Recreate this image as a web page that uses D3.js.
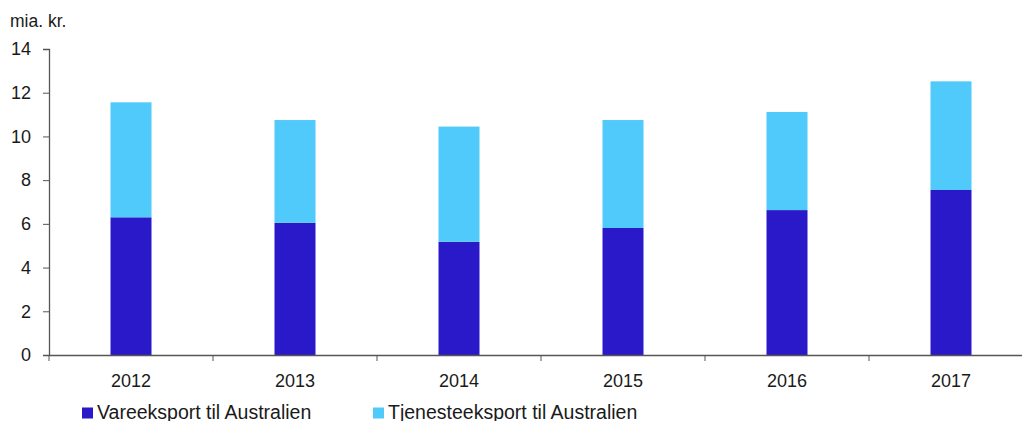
<!DOCTYPE html>
<html><head><meta charset="utf-8">
<script src="https://cdn.jsdelivr.net/npm/d3@7"></script>
<style>body{margin:0;background:#fff}svg{display:block}text{font-family:"Liberation Sans",Arial,sans-serif;fill:#1a1a1a}</style>
</head><body><svg id="c" width="1022" height="421"></svg>
<script>
const categories = ["2012","2013","2014","2015","2016","2017"];
const vareeksport = [6.30, 6.05, 5.18, 5.81, 6.63, 7.55];
const tjenesteeksport = [5.26, 4.70, 5.27, 4.94, 4.49, 4.97];
const yTicks = [0,2,4,6,8,10,12,14];
const seriesNames = ["Vareeksport til Australien","Tjenesteeksport til Australien"];
const colors = ["#2a19c9","#50c9fb"];

const svg = d3.select("#c");
const x = d3.scaleBand().domain(categories).range([49,1033]).paddingInner(0).paddingOuter(0);
const y = d3.scaleLinear().domain([0,14]).range([355,49]);

const data = categories.map((c,i)=>({cat:c, v:vareeksport[i], t:tjenesteeksport[i]}));
const stack = d3.stack().keys(["v","t"])(data);

const bw = x.bandwidth()*0.25;
svg.append("g").selectAll("g").data(stack).join("g").attr("fill",(d,i)=>colors[i])
  .selectAll("rect").data(d=>d).join("rect")
  .attr("x",d=>x(d.data.cat)+x.bandwidth()/2-bw/2)
  .attr("width",bw)
  .attr("y",d=>y(d[1]))
  .attr("height",d=>y(d[0])-y(d[1]));

// y axis
const ya = svg.append("g").attr("transform","translate(49,0)")
  .call(d3.axisLeft(y).tickValues(yTicks).tickSize(6).tickPadding(12).tickFormat(d3.format("d")));
ya.select(".domain").attr("stroke","#555").attr("stroke-width",1.3);
ya.selectAll(".tick line").attr("stroke","#555");
ya.selectAll("text").style("font-size","18px").attr("fill","#1a1a1a");

// x axis
const xa = svg.append("g").attr("transform","translate(0,355)")
  .call(d3.axisBottom(x).tickSize(0).tickPadding(19));
xa.select(".domain").attr("stroke","#555").attr("stroke-width",1.3);
xa.selectAll("text").style("font-size","18px").attr("fill","#1a1a1a");
const bounds = x.domain().map(d=>x(d)).concat([x.range()[1]]);
xa.selectAll(".bt").data(bounds).join("line").attr("class","bt")
  .attr("x1",d=>d).attr("x2",d=>d).attr("y1",0).attr("y2",6).attr("stroke","#555");

svg.append("text").attr("x",10).attr("y",27).style("font-size","17.5px").text("mia. kr.");

// legend
const lx = [82,373];
const lg = svg.append("g").selectAll("g").data(seriesNames).join("g")
  .attr("transform",(d,i)=>`translate(${lx[i]},0)`);
lg.append("rect").attr("x",0).attr("y",407.5).attr("width",11).attr("height",11).attr("fill",(d,i)=>colors[i]);
lg.append("text").attr("x",15).attr("y",418.5).style("font-size","19.5px").text(d=>d);
</script></body></html>
